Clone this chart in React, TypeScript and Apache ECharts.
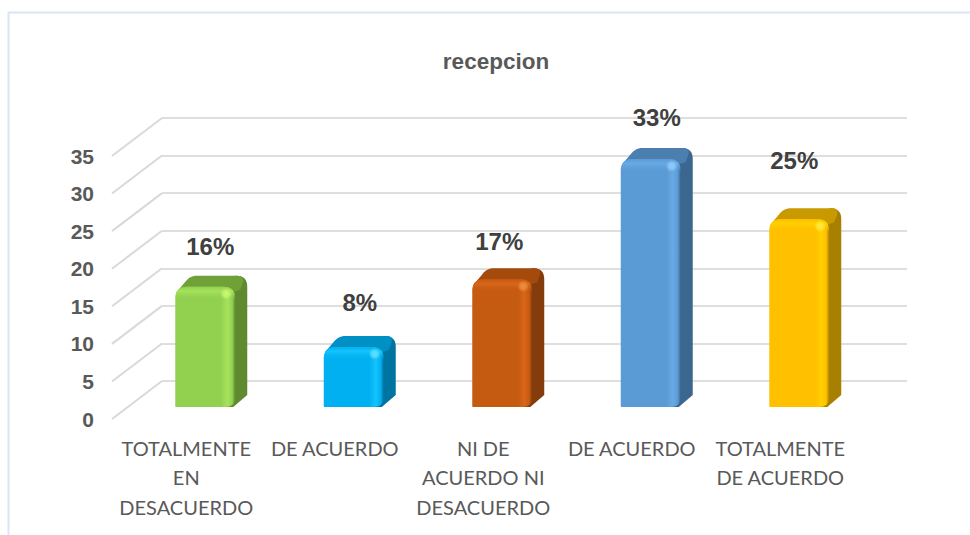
import React, { useEffect, useRef } from "react";
import * as echarts from "echarts";

const chartTitle = "recepcion";
const categories = [
  "TOTALMENTE\nEN\nDESACUERDO",
  "DE ACUERDO",
  "NI DE\nACUERDO NI\nDESACUERDO",
  "DE ACUERDO",
  "TOTALMENTE\nDE ACUERDO",
];
const values = [16, 8, 17, 33, 25];
const percentLabels = ["16%", "8%", "17%", "33%", "25%"];
const yTicks = [0, 5, 10, 15, 20, 25, 30, 35];

// Styles, separate from the data
const faceColors = ["#92d050", "#00b0f0", "#c55a11", "#5b9bd5", "#ffc000"];
const lightColors = ["#a6e35c", "#14c4ff", "#d9661a", "#68aae6", "#ffd000"];
const spotColors = ["#c8f870", "#60e0ff", "#ee8c40", "#90ccfa", "#ffea40"];
const topColors = ["#70a038", "#0090c4", "#a44a0c", "#4a7fb0", "#c99a00"];
const sideColors = ["#5f8a30", "#0074a0", "#843c0c", "#3b6690", "#a88000"];
const labelShift = [[5, -40], [6, -44], [-3, -38], [6, -42], [-5, -59]];

const DEPTH_X = 12;
const DEPTH_Y = -11;

function roundPoly(pts: number[][], radii: number[]) {
  const out: number[][] = [];
  const n = pts.length;
  for (let i = 0; i < n; i++) {
    const p = pts[i];
    const a = pts[(i + n - 1) % n];
    const b = pts[(i + 1) % n];
    const r = radii[i];
    if (!r) {
      out.push(p);
      continue;
    }
    const la = Math.hypot(a[0] - p[0], a[1] - p[1]);
    const lb = Math.hypot(b[0] - p[0], b[1] - p[1]);
    const s = [p[0] + ((a[0] - p[0]) / la) * r, p[1] + ((a[1] - p[1]) / la) * r];
    const e = [p[0] + ((b[0] - p[0]) / lb) * r, p[1] + ((b[1] - p[1]) / lb) * r];
    for (let k = 0; k <= 8; k++) {
      const t = k / 8;
      const u = 1 - t;
      out.push([
        u * u * s[0] + 2 * u * t * p[0] + t * t * e[0],
        u * u * s[1] + 2 * u * t * p[1] + t * t * e[1],
      ]);
    }
  }
  return out;
}

function renderBar(params: any, api: any) {
  const i = params.dataIndex;
  const [cx, yTop] = api.coord([api.value(0), api.value(1)]);
  const [, yBase] = api.coord([api.value(0), 0]);
  const w = api.size([1, 0])[0] * 0.404;
  const x0 = cx - w / 2;
  const x1 = cx + w / 2;
  const dx = DEPTH_X;
  const dy = DEPTH_Y;
  const side = roundPoly(
    [[x1 - 14, yTop], [x1 + dx - 12, yTop + dy], [x1 + dx, yTop + dy], [x1 + dx, yBase + dy - 1], [x1 - 2, yBase], [x1 - 14, yBase]],
    [0, 0, 11, 0, 0, 0]
  );
  const top = roundPoly(
    [[x0, yTop + 7], [x0 + dx + 3, yTop + dy], [x1 + dx - 2, yTop + dy], [x1 + 5, yTop + 3], [x1 - 10, yTop + 8], [x0 + 8, yTop + 8]],
    [3, 7, 8, 0, 0, 0]
  );
  const front = roundPoly(
    [[x0, yTop], [x1, yTop], [x1, yBase], [x0, yBase]],
    [12, 12, 10, 1]
  );
  const bevel = roundPoly(
    [[x0, yTop], [x1, yTop], [x1, yTop + 13], [x0, yTop + 13]],
    [12, 12, 0, 0]
  );
  const base = faceColors[i];
  const light = lightColors[i];
  return {
    type: "group",
    children: [
      { type: "polygon", shape: { points: side }, style: { fill: sideColors[i] } },
      { type: "polygon", shape: { points: top }, style: { fill: topColors[i] } },
      {
        type: "polygon",
        shape: { points: front },
        style: {
          fill: {
            type: "linear", x: 0, y: 0, x2: 1, y2: 0,
            colorStops: [
              { offset: 0, color: base },
              { offset: 0.76, color: base },
              { offset: 0.87, color: light },
              { offset: 0.95, color: base },
              { offset: 1, color: sideColors[i] },
            ],
          },
        },
      },
      {
        type: "polygon",
        shape: { points: bevel },
        style: {
          fill: {
            type: "linear", x: 0, y: 0, x2: 0, y2: 1,
            colorStops: [
              { offset: 0, color: base },
              { offset: 0.35, color: light },
              { offset: 1, color: base + "00" },
            ],
          },
        },
      },
      {
        type: "circle",
        shape: { cx: x1 - 9, cy: yTop + 7, r: 6 },
        style: {
          fill: {
            type: "radial", x: 0.5, y: 0.5, r: 0.5,
            colorStops: [
              { offset: 0, color: spotColors[i] },
              { offset: 0.5, color: spotColors[i] + "cc" },
              { offset: 1, color: spotColors[i] + "00" },
            ],
          },
        },
      },
      {
        type: "text",
        style: {
          x: cx + labelShift[i][0],
          y: yTop + labelShift[i][1],
          text: percentLabels[i],
          fill: "#404040",
          font: 'bold 24px "Liberation Sans", Arial, sans-serif',
          align: "center",
          verticalAlign: "middle",
        },
      },
    ],
  };
}

function renderDiagonal(params: any, api: any) {
  const [, y] = api.coord([0, api.value(0)]);
  const x = params.coordSys.x;
  return {
    type: "line",
    shape: { x1: x, y1: y, x2: x - 50, y2: y + 38 },
    style: { stroke: "#d9d9d9", lineWidth: 2 },
  };
}

export default function App() {
  const ref = useRef<HTMLDivElement>(null);
  useEffect(() => {
    const chart = echarts.init(ref.current!, null, { renderer: "svg" });
    const hiddenCat = { type: "category", data: categories, show: false };
    chart.setOption({
      animation: false,
      backgroundColor: "#ffffff",
      title: {
        text: chartTitle,
        left: 496,
        top: 48,
        textAlign: "center",
        textStyle: { color: "#595959", fontSize: 22.5, fontWeight: "bold", fontFamily: '"Liberation Sans", Arial, sans-serif' },
      },
      graphic: [
        {
          type: "rect",
          silent: true,
          z: -1,
          shape: { x: 8.5, y: 12.5, width: 970, height: 540 },
          style: { fill: "none", stroke: "#dce5f5", lineWidth: 2 },
        },
      ],
      grid: [
        // back wall
        { left: 162, top: 118, width: 745, height: 263 },
        // front plane: carries axis labels
        { left: 112, top: 156, width: 742.5, height: 263 },
        // plane on which the bars stand
        { left: 131, top: 144, width: 742.5, height: 263 },
      ],
      xAxis: [
        { ...hiddenCat, gridIndex: 0 },
        {
          type: "category",
          gridIndex: 1,
          data: categories,
          axisLine: { show: false },
          axisTick: { show: false },
          axisLabel: {
            interval: 0,
            margin: 14,
            color: "#595959",
            fontSize: 20,
            lineHeight: 29.5,
            fontFamily: "Lato, sans-serif",
          },
        },
        { ...hiddenCat, gridIndex: 2 },
      ],
      yAxis: [
        {
          type: "value", gridIndex: 0, min: 0, max: 35, interval: 5,
          axisLine: { show: false }, axisTick: { show: false }, axisLabel: { show: false },
          splitLine: { show: true, lineStyle: { color: "#dedede", width: 2 } },
        },
        {
          type: "value", gridIndex: 1, min: 0, max: 35, interval: 5,
          axisLine: { show: false }, axisTick: { show: false }, splitLine: { show: false },
          axisLabel: {
            margin: 18,
            color: "#595959",
            fontSize: 21,
            fontWeight: "bold",
            fontFamily: '"Liberation Sans", Arial, sans-serif',
          },
        },
        { type: "value", gridIndex: 2, min: 0, max: 35, interval: 5, show: false },
      ],
      series: [
        {
          type: "custom",
          xAxisIndex: 0,
          yAxisIndex: 0,
          clip: false,
          silent: true,
          renderItem: renderDiagonal,
          encode: { y: 0 },
          data: yTicks.map((t) => [t]),
          z: 1,
        },
        {
          type: "custom",
          xAxisIndex: 2,
          yAxisIndex: 2,
          clip: false,
          silent: true,
          renderItem: renderBar,
          encode: { x: 0, y: 1 },
          data: values.map((v, i) => [i, v]),
          z: 2,
        },
      ],
    });
    chart.setOption({
      title: { left: 491, top: 45 },
    });
    return () => chart.dispose();
  }, []);
  return <div ref={ref} style={{ position: "fixed", left: 0, top: 0, width: 970, height: 535 }} />;
}
